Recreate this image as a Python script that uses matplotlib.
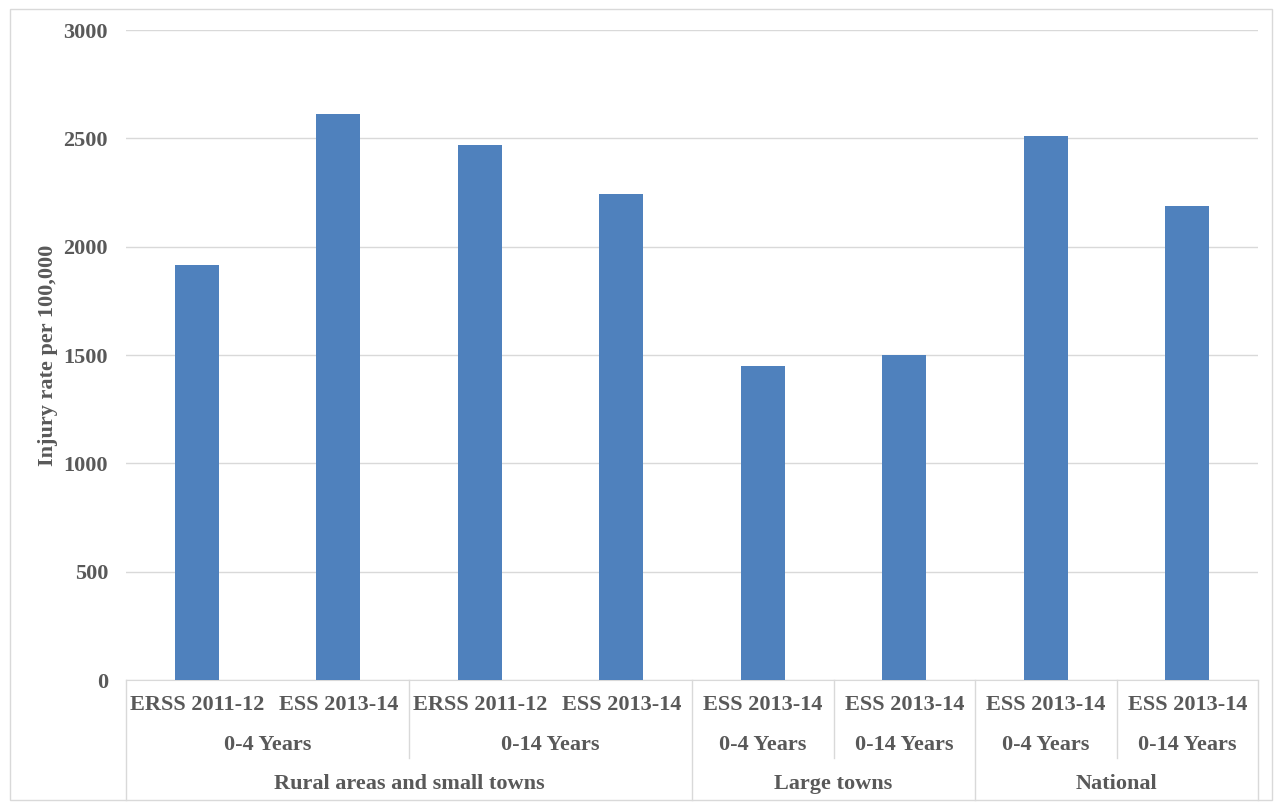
import matplotlib.pyplot as plt
from matplotlib.transforms import blended_transform_factory
from matplotlib.lines import Line2D
from matplotlib.patches import Rectangle

# data
surveys = ['ERSS 2011-12', 'ESS 2013-14', 'ERSS 2011-12', 'ESS 2013-14',
           'ESS 2013-14', 'ESS 2013-14', 'ESS 2013-14', 'ESS 2013-14']
age_groups = ['0-4 Years', '0-14 Years', '0-4 Years', '0-14 Years',
              '0-4 Years', '0-14 Years']
age_spans = [(0, 1), (2, 3), (4, 4), (5, 5), (6, 6), (7, 7)]
areas = ['Rural areas and small towns', 'Large towns', 'National']
area_spans = [(0, 3), (4, 5), (6, 7)]
rates = [1915, 2612, 2470, 2243, 1447, 1500, 2512, 2188]

TEXT = '#595959'
GRID = '#d9d9d9'
BAR = '#4f81bd'

plt.rcParams['font.family'] = 'Liberation Serif'
plt.rcParams['font.weight'] = 'bold'

W, H = 1282, 802
fig = plt.figure(figsize=(W / 100, H / 100), dpi=100)
fig.patches.append(Rectangle((10 / W, 1 - 800 / H), 1262 / W, 791 / H,
                             transform=fig.transFigure, fill=False,
                             edgecolor=GRID, linewidth=1))

ax = fig.add_axes([126 / W, 1 - 680 / H, 1132 / W, 650 / H])
x = list(range(len(rates)))
ax.bar(x, rates, width=0.31, color=BAR, zorder=3)

ax.set_xlim(-0.5, len(rates) - 0.5)
ax.set_ylim(0, 3000)
ax.set_yticks(range(0, 3001, 500))
ax.yaxis.grid(True, color=GRID, linewidth=1, zorder=0)
ax.tick_params(axis='y', length=0, pad=13, labelsize=16, labelcolor=TEXT)
ax.set_xticks([])
for s in ['top', 'right', 'left']:
    ax.spines[s].set_visible(False)
ax.spines['bottom'].set_color(GRID)
ax.set_ylabel('Injury rate per 100,000', fontsize=16, color=TEXT,
              fontweight='bold', labelpad=4)

# multi-level category axis
tr = blended_transform_factory(ax.transData, fig.transFigure)


def fy(py):
    return 1 - py / H


for i, s in enumerate(surveys):
    ax.text(i, fy(705), s, transform=tr, ha='center', va='center',
            fontsize=16, color=TEXT)
for lab, (a, b) in zip(age_groups, age_spans):
    ax.text((a + b) / 2, fy(745), lab, transform=tr, ha='center',
            va='center', fontsize=16, color=TEXT)
for lab, (a, b) in zip(areas, area_spans):
    ax.text((a + b) / 2, fy(784), lab, transform=tr, ha='center',
            va='center', fontsize=16, color=TEXT)

for xb in [-0.5, 3.5, 5.5, 7.5]:
    fig.add_artist(Line2D([xb, xb], [fy(680), fy(800)], transform=tr,
                          color=GRID, linewidth=1))
for xb in [1.5, 4.5, 6.5]:
    fig.add_artist(Line2D([xb, xb], [fy(680), fy(758)], transform=tr,
                          color=GRID, linewidth=1))

fig.savefig('out.png', dpi=100)
